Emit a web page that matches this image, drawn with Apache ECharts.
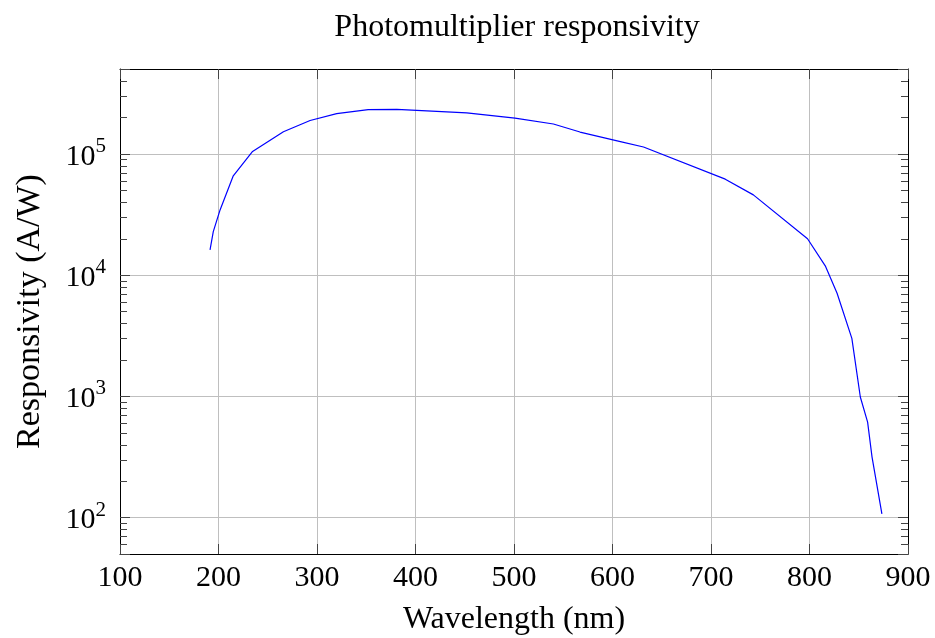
<!DOCTYPE html>
<html>
<head>
<meta charset="utf-8">
<title>Photomultiplier responsivity</title>
<script src="https://cdn.jsdelivr.net/npm/echarts@6/dist/echarts.min.js"></script>
<style>
  html, body { margin: 0; padding: 0; background: #fff; }
  #chart { width: 935px; height: 638px; }
</style>
</head>
<body>
<div id="chart"></div>
<script>
// Wavelength (nm) and responsivity (A/W) of the photomultiplier
const wavelengths = [191.4, 194.7, 201.6, 215, 234.6, 265.9, 293, 320, 352, 381,
                     452, 501, 540, 567, 608, 631.5, 714.5, 743, 798, 816,
                     828, 843, 851.6, 859, 863.5, 873.5];
const responsivity = [16100, 22800, 34400, 65800, 104500, 152000, 188000, 214000, 231000, 232000,
                      217000, 197000, 176000, 151000, 126000, 113600, 61700, 45800, 19900, 11900,
                      7070, 3000, 986, 612, 315, 107];

const xTicks = [100, 200, 300, 400, 500, 600, 700, 800, 900];
const yRange = [50, 500000];

// Logarithmic minor tick values (2..9 x 10^n) inside the y range
const minorTickValues = [];
for (let e = 1; e <= 5; e++) {
  for (let m = 2; m <= 9; m++) {
    const v = m * Math.pow(10, e);
    if (v > yRange[0] && v < yRange[1]) minorTickValues.push(v);
  }
}

const FONT = '"Liberation Serif", "Times New Roman", serif';
const GRID_COLOR = '#bfbfbf';
const TICK_COLOR = '#444';

const series = wavelengths.map((w, i) => [w, responsivity[i]]);

function isPow10(v) {
  const l = Math.log10(v);
  return Math.abs(l - Math.round(l)) < 1e-6;
}

const chart = echarts.init(document.getElementById('chart'), null, { renderer: 'canvas' });

const option = {
  backgroundColor: '#fff',
  animation: false,
  title: {
    text: 'Photomultiplier responsivity',
    left: 512,
    textAlign: 'center',
    top: 7,
    textStyle: { fontFamily: FONT, fontSize: 32, fontWeight: 'normal', color: '#000' }
  },
  grid: {
    left: 120, top: 69, width: 788, height: 485,
    containLabel: false, outerBoundsMode: 'none'
  },
  xAxis: [
    {
      type: 'value', min: xTicks[0], max: xTicks[xTicks.length - 1], interval: 100,
      position: 'bottom',
      name: 'Wavelength (nm)', nameLocation: 'middle', nameGap: 50,
      nameTextStyle: { fontFamily: FONT, fontSize: 32, color: '#000' },
      axisLine: { show: true, onZero: false, lineStyle: { color: '#000', width: 1 } },
      axisTick: { show: true, inside: true, length: 10, lineStyle: { color: TICK_COLOR } },
      axisLabel: { fontFamily: FONT, fontSize: 30, color: '#000', margin: 9 },
      splitLine: { show: true, lineStyle: { color: GRID_COLOR, width: 1 } }
    },
    {
      type: 'value', min: xTicks[0], max: xTicks[xTicks.length - 1], interval: 100,
      position: 'top',
      axisLine: { show: true, onZero: false, lineStyle: { color: '#000', width: 1 } },
      axisTick: { show: true, inside: true, length: 10, lineStyle: { color: TICK_COLOR } },
      axisLabel: { show: false },
      splitLine: { show: false }
    }
  ],
  yAxis: [
    {
      type: 'log', logBase: 10, min: yRange[0], max: yRange[1],
      position: 'left',
      name: 'Responsivity (A/W)', nameLocation: 'middle', nameGap: 73,
      nameTextStyle: { fontFamily: FONT, fontSize: 34, color: '#000' },
      axisLine: { show: true, onZero: false, lineStyle: { color: '#000', width: 1 } },
      axisTick: { show: true, inside: true, length: 10, lineStyle: { color: TICK_COLOR } },
      axisLabel: {
        margin: 14,
        formatter: v => isPow10(v) ? '{b|10}{s|' + Math.round(Math.log10(v)) + '}' : '',
        rich: {
          b: { fontFamily: FONT, fontSize: 30, color: '#000', verticalAlign: 'bottom', lineHeight: 36 },
          s: { fontFamily: FONT, fontSize: 21, color: '#000', verticalAlign: 'top', lineHeight: 36 }
        }
      },
      splitLine: { show: true, lineStyle: { color: GRID_COLOR, width: 1 } }
    },
    {
      type: 'log', logBase: 10, min: yRange[0], max: yRange[1],
      position: 'right',
      axisLine: { show: true, onZero: false, lineStyle: { color: '#000', width: 1 } },
      axisTick: { show: true, inside: true, length: 10, lineStyle: { color: TICK_COLOR } },
      axisLabel: { show: false },
      splitLine: { show: false }
    }
  ],
  series: [
    {
      // short inside minor ticks on the left and right frame edges
      type: 'custom',
      xAxisIndex: 0, yAxisIndex: 0,
      silent: true,
      clip: false,
      z: 1,
      data: minorTickValues.map(v => [xTicks[0], v]),
      encode: { x: 0, y: 1 },
      renderItem: function (params, api) {
        const v = api.value(1);
        const pl = api.coord([xTicks[0], v]);
        const pr = api.coord([xTicks[xTicks.length - 1], v]);
        const y = Math.round(pl[1]) + 0.5;
        return {
          type: 'group',
          children: [
            { type: 'line', shape: { x1: pl[0], y1: y, x2: pl[0] + 7, y2: y },
              style: { stroke: TICK_COLOR, lineWidth: 1 } },
            { type: 'line', shape: { x1: pr[0], y1: y, x2: pr[0] - 7, y2: y },
              style: { stroke: TICK_COLOR, lineWidth: 1 } }
          ]
        };
      }
    },
    {
      type: 'line',
      xAxisIndex: 0, yAxisIndex: 0,
      data: series,
      showSymbol: false,
      smooth: false,
      lineStyle: { color: '#0000ff', width: 1.2 },
      z: 3
    }
  ]
};

chart.setOption(option);
</script>
</body>
</html>
